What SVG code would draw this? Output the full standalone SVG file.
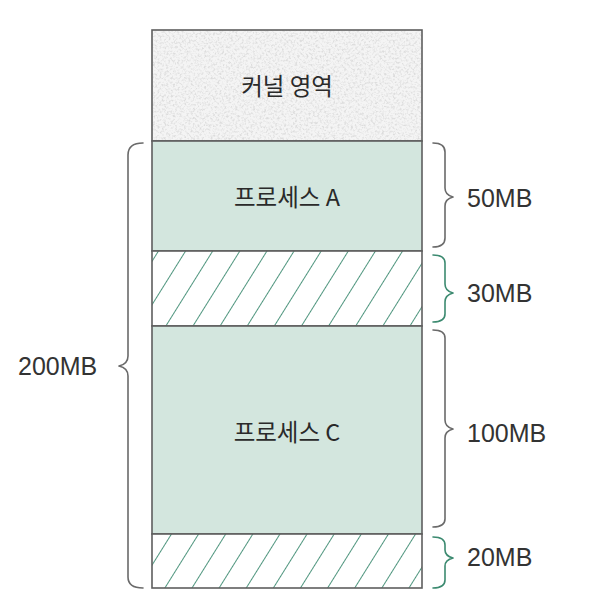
<svg xmlns="http://www.w3.org/2000/svg" width="602" height="610" viewBox="0 0 602 610">
<defs>
<style>
.lbl{font-family:"Liberation Sans","Noto Sans",sans-serif;font-size:25px;fill:#333333;}
.ko{font-family:"Noto Sans CJK KR","Noto Sans",sans-serif;font-size:23.5px;fill:#2a2a2a;text-anchor:middle;}
.box{stroke:#5e5e5e;stroke-width:1.6;}
.proc{fill:#d3e6de;}
.brace{fill:none;stroke-width:1.6;stroke-linecap:round;stroke-linejoin:round;}
.gray{stroke:#6a6a6a;}
.green{stroke:#3c8a70;}
</style>
<pattern id="hatch" patternUnits="userSpaceOnUse" width="23" height="23" patternTransform="translate(152 0) rotate(32)">
<rect width="23" height="23" fill="#ffffff"/>
<line x1="0" y1="-2" x2="0" y2="25" stroke="#3c8a70" stroke-width="1.8"/>
</pattern>
<filter id="grain" x="0" y="0" width="100%" height="100%">
<feTurbulence type="fractalNoise" baseFrequency="0.45" numOctaves="3" seed="7" result="n"/>
<feColorMatrix in="n" type="matrix" values="0 0 0 0 0.72  0 0 0 0 0.72  0 0 0 0 0.72  3.0 0 0 0 -1.35" result="spk"/>
<feComposite in="spk" in2="SourceGraphic" operator="atop"/>
</filter>
</defs>
<rect width="602" height="610" fill="#ffffff"/>

<g id="kernel">
<rect x="152" y="30" width="270" height="111" fill="#f4f4f4" filter="url(#grain)"/>
<rect x="152" y="30" width="270" height="111" fill="none" class="box"/>
<text class="ko" x="287" y="95">커널 영역</text>
</g>

<g id="processA">
<rect x="152" y="141" width="270" height="110" class="proc box"/>
<text class="ko" x="287" y="206">프로세스 A</text>
</g>

<g id="free30">
<rect x="152" y="251" width="270" height="75" fill="url(#hatch)" class="box"/>
</g>

<g id="processC">
<rect x="152" y="326" width="270" height="208" class="proc box"/>
<text class="ko" x="287" y="441">프로세스 C</text>
</g>

<g id="free20">
<rect x="152" y="534" width="270" height="54" fill="url(#hatch)" class="box"/>
</g>

<g id="connectors">
<path class="brace gray" d="M143,143 Q128,143 128,155 L128,356 Q128,364 119,366 Q128,368 128,376 L128,577 Q128,588 143,588"/>
<path class="brace gray" d="M433,143 Q445,143 445,152 L445,188 Q445,195 453,197 Q445,199 445,206 L445,238 Q445,247 433,247"/>
<path class="brace green" d="M433,255 Q445,255 445,263 L445,284 Q445,291 453,293 Q445,295 445,302 L445,314 Q445,322 433,322"/>
<path class="brace gray" d="M433,330 Q445,330 445,338 L445,420 Q445,427 453,429 Q445,431 445,438 L445,519 Q445,527 433,527"/>
<path class="brace green" d="M433,537 Q445,537 445,545 L445,550 Q445,556 453,558 Q445,560 445,566 L445,580 Q445,588 433,588"/>
</g>

<g id="labels">
<text class="lbl" x="18" y="375">200MB</text>
<text class="lbl" x="467" y="207">50MB</text>
<text class="lbl" x="467" y="302">30MB</text>
<text class="lbl" x="467" y="442">100MB</text>
<text class="lbl" x="467" y="566">20MB</text>
</g>
</svg>
